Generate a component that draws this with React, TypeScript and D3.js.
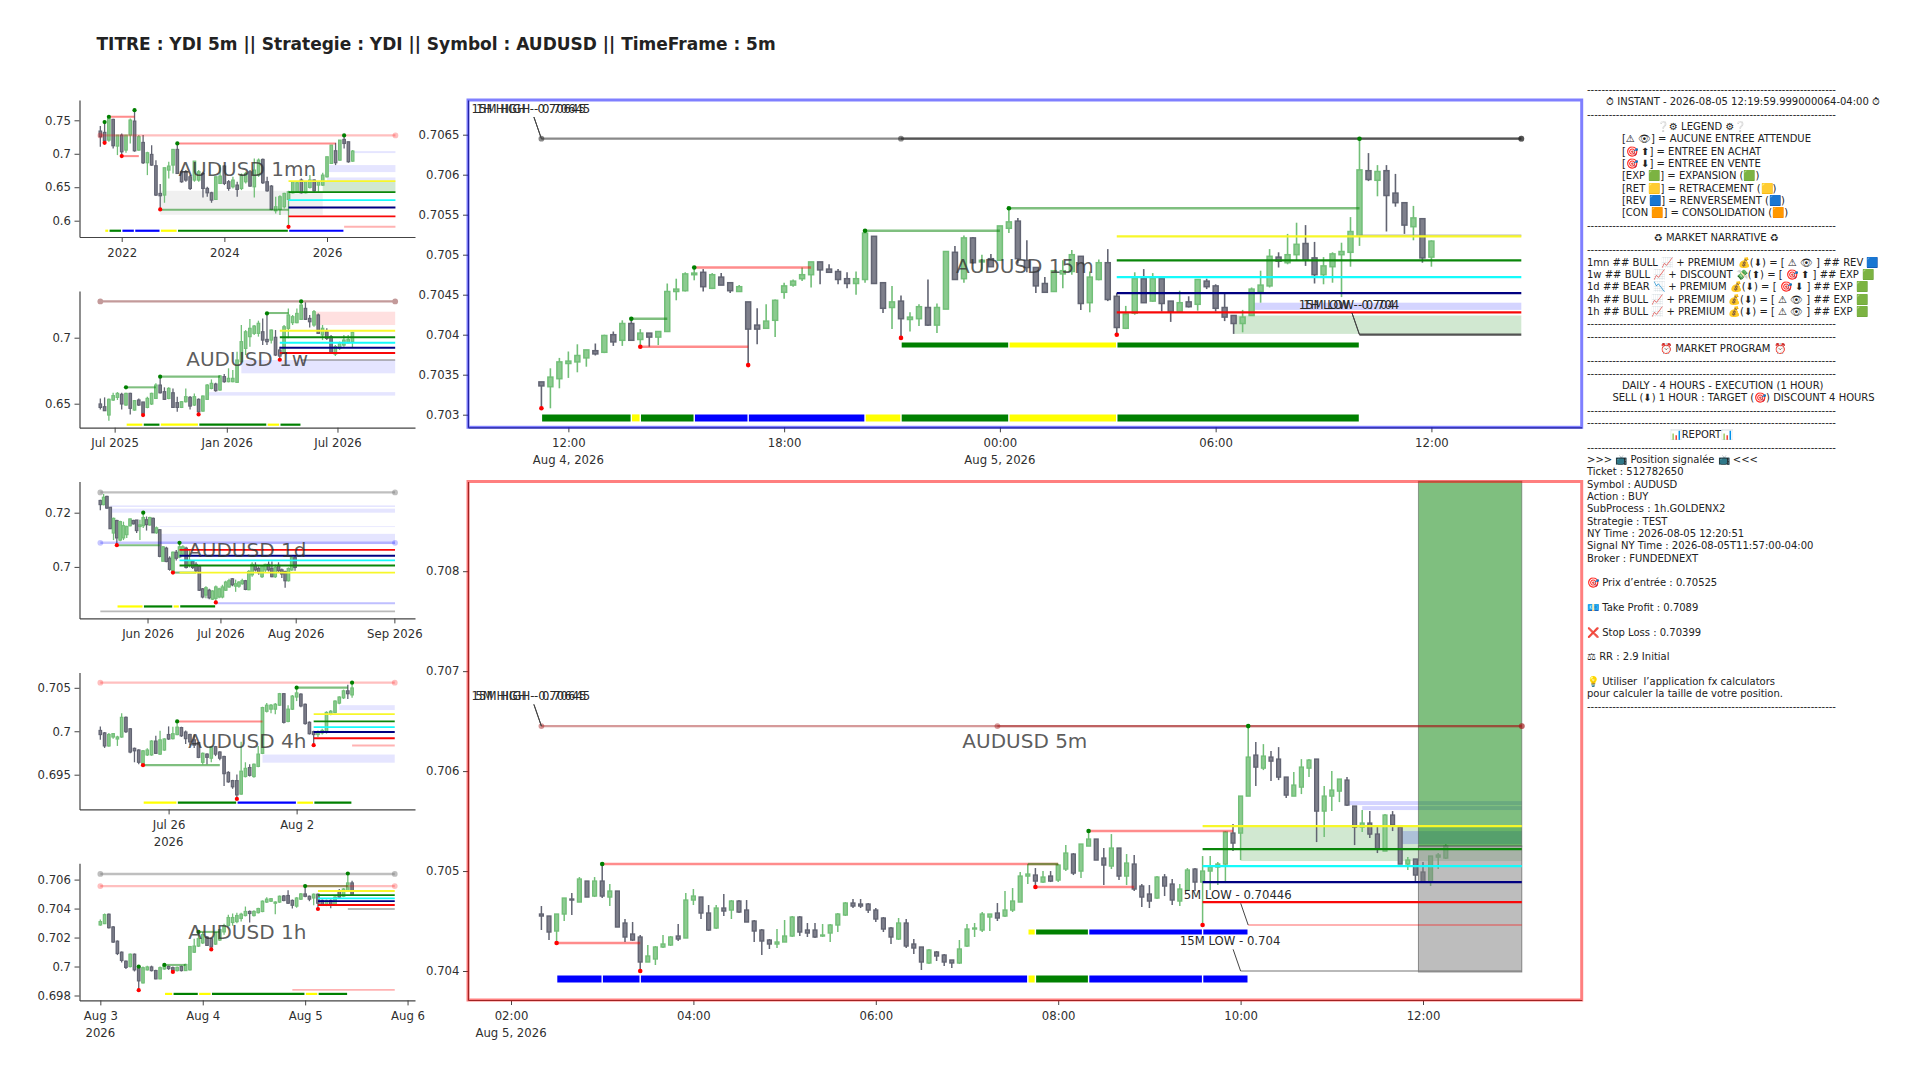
import * as React from "react";
import * as d3 from "d3";

type Candle = number[]; // open, high, low, close

const FONT = "'DejaVu Sans', sans-serif";
const TITLE = "TITRE : YDI 5m || Strategie : YDI || Symbol : AUDUSD || TimeFrame : 5m";

// prices are stored as integers, see `unit` of each panel
const candles1mn: Candle[] = [[7339,7413,7105,7254],[7319,7473,7164,7194],[7204,7553,7179,7528],[7513,7523,7080,7120],[7115,7279,6980,7279],[7279,7304,6965,7030],[7055,7279,7015,7279],[7279,7528,7154,7503],[7488,7652,7030,7045],[7055,7279,7045,7254],[7169,7279,6846,6866],[6866,7030,6681,7015],[6990,7129,6821,6831],[6821,6905,6368,6383],[6407,6547,6168,6373],[6383,6791,6268,6791],[6756,6880,6631,6816],[6831,7065,6706,7065],[7065,7154,6696,6706],[6731,6756,6567,6582],[6731,6756,6582,6607],[6656,6681,6457,6482],[6607,6890,6582,6890],[6607,6756,6582,6731],[6706,6731,6348,6482],[6482,6507,6358,6417],[6417,6432,6268,6308],[6318,6656,6308,6656],[6557,6831,6547,6666],[6816,6831,6532,6557],[6582,6607,6447,6482],[6507,6656,6482,6607],[6532,6582,6358,6467],[6482,6706,6457,6681],[6582,6731,6557,6706],[6731,6756,6507,6517],[6507,6930,6348,6756],[6681,6930,6656,6905],[6915,6930,6547,6567],[6582,6656,6432,6447],[6517,6532,6158,6168],[6148,6358,6109,6208],[6168,6382,6084,6358],[6208,6417,6183,6407],[6318,6447,5909,6432],[6417,6592,6407,6582],[6432,6582,6417,6567],[6607,6632,6407,6417],[6417,6592,6407,6582],[6497,6681,6482,6607],[6607,6617,6432,6447],[6532,6582,6432,6582],[6532,6716,6517,6681],[6656,6955,6646,6955],[6856,7129,6846,7129],[7045,7164,6831,6866],[6905,7204,6895,7204],[7214,7274,7080,7154],[7179,7179,6866,6881],[6890,7055,6881,7040]];
const candles1w: Candle[] = [[6498,6540,6457,6472],[6477,6548,6447,6447],[6414,6540,6371,6533],[6528,6583,6520,6561],[6548,6588,6528,6578],[6571,6583,6457,6498],[6490,6583,6485,6578],[6578,6583,6419,6465],[6452,6528,6447,6523],[6528,6540,6482,6490],[6513,6513,6414,6427],[6472,6553,6465,6540],[6498,6583,6490,6578],[6540,6654,6538,6641],[6641,6705,6578,6583],[6591,6624,6528,6533],[6540,6624,6533,6616],[6583,6616,6467,6472],[6508,6553,6439,6472],[6472,6520,6467,6515],[6515,6616,6510,6553],[6548,6558,6457,6482],[6490,6578,6482,6553],[6533,6540,6419,6439],[6444,6563,6439,6558],[6533,6649,6528,6641],[6616,6684,6609,6654],[6649,6659,6591,6599],[6604,6717,6599,6710],[6705,6725,6659,6667],[6667,6768,6662,6692],[6667,6755,6662,6692],[6662,6894,6659,6831],[6818,7096,6806,6970],[6919,7058,6869,7045],[7008,7141,6932,7071],[7033,7096,7020,7088],[7033,7129,7008,7109],[7045,7146,6944,6982],[6987,7184,6944,6970],[6982,7063,6957,7058],[7003,7058,6861,6869],[6907,6932,6833,6861],[6881,7096,6876,7083],[7071,7222,6995,7172],[7114,7172,7096,7159],[7114,7222,7109,7184],[7139,7275,7134,7247],[7222,7273,7134,7139],[7146,7172,7078,7121],[7096,7210,7083,7197],[7172,7184,7028,7033],[7020,7096,6982,7071],[7045,7071,6982,6995],[7008,7020,6876,6881],[6876,6944,6861,6932],[6919,6970,6907,6957],[6944,7020,6932,6982],[6962,7020,6957,6987],[6970,7045,6927,7040]];
const candles1d: Candle[] = [[7245,7248,7209,7230],[7230,7269,7227,7257],[7260,7263,7215,7217],[7220,7220,7140,7141],[7125,7182,7099,7179],[7171,7174,7080,7107],[7099,7170,7095,7167],[7107,7167,7099,7152],[7119,7152,7107,7149],[7152,7179,7149,7177],[7171,7174,7156,7159],[7173,7173,7125,7134],[7149,7174,7099,7155],[7152,7200,7144,7182],[7174,7186,7134,7156],[7155,7185,7152,7182],[7179,7182,7125,7126],[7126,7149,7122,7144],[7137,7140,7036,7039],[7021,7077,7020,7074],[7069,7074,7017,7020],[7032,7039,6986,6991],[6986,7057,6979,7054],[7054,7062,7024,7032],[7036,7089,7032,7074],[7047,7080,7044,7074],[7069,7074,6994,6998],[7009,7062,6998,7024],[7020,7023,6992,6998],[7009,7017,6979,6986],[7002,7005,6911,6914],[6919,6922,6884,6889],[6896,6929,6884,6923],[6914,6919,6881,6886],[6881,6914,6878,6911],[6884,6931,6869,6926],[6889,6923,6884,6919],[6889,6934,6884,6926],[6914,6949,6911,6944],[6926,6956,6923,6949],[6956,6959,6929,6934],[6929,6953,6908,6938],[6929,6947,6923,6944],[6938,6956,6934,6949],[6949,6952,6914,6917],[6916,6989,6914,6983],[6971,7017,6964,7009],[7006,7017,6983,6989],[6994,7002,6971,6979],[6964,7005,6959,7002],[6989,7012,6979,7009],[7009,7020,6983,6989],[6994,7020,6962,6964],[6964,7009,6959,6998],[7006,7017,6979,6986],[6989,6994,6959,6974],[6983,6986,6923,6949],[6949,6998,6946,6994],[6989,7039,6986,7035],[7035,7044,6986,6998]];
const candles4h: Candle[] = [[70009,70056,69901,69962],[69981,69991,69808,69831],[69831,69981,69822,69962],[69934,69981,69915,69972],[69911,69948,69831,69934],[69934,70207,69925,70160],[70160,70169,69981,69995],[70028,70038,69746,69761],[69803,69812,69643,69775],[69784,69793,69620,69643],[69620,69784,69610,69775],[69728,69803,69714,69784],[69728,69897,69718,69887],[69887,69948,69737,69746],[69737,70005,69728,69901],[69784,69920,69775,69911],[69962,70056,69901,69911],[69915,70052,69906,69972],[69962,70113,69953,70047],[70042,70052,69934,69948],[69991,70009,69854,69915],[69962,69972,69840,69878],[69901,69962,69808,69840],[69869,69878,69690,69700],[69643,69756,69620,69746],[69737,69746,69620,69700],[69690,69831,69643,69822],[69822,69831,69714,69737],[69761,69770,69667,69690],[69709,69718,69371,69512],[69526,69540,69408,69418],[69432,69441,69338,69361],[69432,69502,69221,69268],[69277,69878,69268,69540],[69479,69643,69469,69573],[69582,69620,69479,69493],[69479,69629,69465,69620],[69596,69831,69587,69737],[69746,70282,69737,70272],[70230,70324,70216,70300],[70254,70315,70207,70300],[70254,70324,70197,70310],[70300,70441,70291,70432],[70432,70441,70089,70103],[70113,70300,70103,70254],[70254,70418,70244,70404],[70394,70502,70347,70441],[70427,70437,70277,70291],[70310,70319,70075,70089],[70103,70113,69962,69972],[69995,70005,69840,69962],[69962,70009,69934,69995],[69981,70028,69962,70009],[69995,70230,69972,70216],[70197,70244,70183,70230],[70216,70357,70207,70347],[70324,70404,70310,70394],[70385,70479,70371,70465],[70465,70535,70371,70432],[70418,70559,70385,70498]];
const candles1h: Candle[] = [[70287,70324,70282,70310],[70296,70366,70293,70358],[70361,70366,70262,70268],[70273,70279,70163,70169],[70175,70180,70079,70090],[70099,70104,70028,70042],[70037,70042,69983,69994],[70000,70090,69994,70085],[70085,70090,69966,69977],[69994,70000,69837,69901],[69887,70000,69882,69992],[69977,70006,69972,69997],[69997,70006,69966,69972],[69972,69977,69913,69915],[69915,70000,69913,69992],[69983,70011,69977,70006],[70000,70006,69977,69986],[69992,70000,69963,69972],[69972,70000,69966,69994],[70000,70006,69966,69972],[69972,70020,69969,70014],[69977,70141,69972,70138],[70099,70192,70093,70141],[70141,70239,70135,70192],[70163,70239,70155,70220],[70203,70211,70141,70146],[70192,70197,70118,70135],[70155,70239,70149,70234],[70183,70259,70177,70254],[70239,70296,70220,70282],[70282,70358,70276,70338],[70304,70366,70282,70338],[70310,70372,70299,70352],[70332,70372,70310,70361],[70352,70414,70346,70380],[70380,70386,70304,70366],[70352,70389,70346,70380],[70372,70406,70366,70400],[70380,70456,70375,70451],[70445,70479,70439,70465],[70451,70473,70445,70468],[70437,70451,70361,70445],[70445,70490,70439,70485],[70487,70493,70451,70456],[70490,70527,70431,70437],[70456,70462,70400,70423],[70417,70479,70406,70473],[70465,70507,70459,70501],[70501,70555,70479,70485],[70485,70490,70451,70465],[70473,70504,70423,70499],[70499,70504,70397,70437],[70456,70462,70417,70423],[70428,70462,70417,70456],[70456,70462,70403,70423],[70423,70485,70417,70479],[70521,70535,70473,70479],[70485,70541,70479,70535],[70521,70642,70515,70577],[70577,70592,70487,70493]];
const candles15m: Candle[] = [[70341,70341,70308,70336],[70335,70358,70308,70347],[70345,70371,70333,70366],[70364,70379,70346,70367],[70366,70388,70353,70374],[70371,70381,70360,70381],[70380,70389,70374,70376],[70378,70400,70377,70399],[70400,70404,70386,70391],[70393,70418,70386,70414],[70414,70420,70393,70393],[70394,70407,70385,70402],[70402,70402,70385,70397],[70397,70404,70387,70404],[70404,70464,70404,70454],[70454,70470,70443,70457],[70455,70478,70454,70476],[70475,70484,70468,70477],[70478,70482,70454,70460],[70458,70477,70457,70475],[70472,70477,70462,70462],[70465,70466,70452,70455],[70454,70462,70454,70460],[70441,70441,70362,70407],[70412,70433,70388,70407],[70408,70438,70407,70417],[70418,70444,70397,70443],[70453,70465,70445,70461],[70462,70469,70460,70467],[70470,70484,70467,70475],[70475,70491,70459,70491],[70491,70491,70463,70481],[70482,70488,70478,70478],[70479,70482,70463,70469],[70470,70478,70458,70464],[70464,70479,70450,70470],[70469,70530,70465,70527],[70523,70523,70464,70464],[70465,70465,70427,70433],[70434,70461,70407,70441],[70442,70449,70396,70420],[70419,70428,70404,70422],[70420,70438,70411,70435],[70434,70469,70411,70412],[70412,70439,70402,70434],[70432,70504,70432,70504],[70503,70511,70469,70469],[70470,70524,70465,70521],[70521,70522,70489,70490],[70491,70500,70479,70493],[70495,70501,70485,70485],[70493,70536,70493,70536],[70533,70558,70527,70541],[70542,70546,70489,70495],[70493,70518,70478,70484],[70484,70484,70452,70461],[70464,70472,70452,70453],[70454,70480,70454,70480],[70476,70493,70458,70480],[70479,70506,70475,70500],[70498,70498,70431,70439],[70440,70479,70428,70472],[70469,70494,70468,70490],[70490,70507,70442,70444],[70448,70452,70400,70409],[70408,70436,70407,70426],[70427,70478,70425,70470],[70470,70482,70440,70440],[70442,70477,70441,70470],[70470,70471,70429,70439],[70442,70442,70416,70429],[70429,70455,70429,70440],[70441,70448,70434,70435],[70438,70469,70430,70469],[70467,70470,70457,70460],[70461,70463,70429,70433],[70434,70452,70417,70422],[70424,70424,70401,70414],[70414,70431,70403,70422],[70424,70459,70424,70457],[70454,70480,70440,70462],[70461,70507,70459,70498],[70497,70503,70484,70492],[70490,70526,70488,70500],[70500,70540,70493,70513],[70514,70537,70486,70493],[70496,70516,70464,70475],[70475,70497,70463,70486],[70485,70503,70465,70501],[70500,70515,70447,70504],[70503,70547,70485,70529],[70523,70645,70511,70606],[70605,70627,70592,70594],[70593,70612,70573,70604],[70605,70612,70529,70574],[70577,70601,70560,70565],[70565,70565,70526,70537],[70535,70561,70518,70546],[70545,70545,70490,70496],[70497,70518,70485,70517]];
const candles5m: Candle[] = [[70457,70465,70441,70455],[70455,70455,70431,70439],[70440,70457,70428,70457],[70457,70473,70450,70473],[70472,70478,70456,70471],[70469,70494,70469,70492],[70490,70490,70474,70474],[70475,70494,70474,70490],[70490,70507,70473,70475],[70474,70487,70465,70480],[70480,70480,70444,70444],[70448,70452,70429,70434],[70437,70449,70430,70431],[70434,70436,70400,70409],[70409,70426,70409,70415],[70412,70425,70406,70424],[70424,70436,70423,70427],[70426,70435,70425,70434],[70435,70447,70430,70432],[70433,70478,70433,70471],[70471,70482,70466,70475],[70474,70474,70452,70458],[70458,70466,70440,70441],[70443,70466,70442,70463],[70463,70477,70455,70460],[70461,70471,70452,70470],[70470,70471,70458,70459],[70461,70471,70449,70449],[70450,70451,70429,70440],[70441,70442,70416,70430],[70431,70432,70422,70427],[70427,70442,70423,70429],[70429,70451,70429,70435],[70435,70455,70434,70454],[70454,70455,70435,70439],[70441,70448,70434,70438],[70441,70448,70433,70434],[70435,70447,70434,70436],[70438,70447,70429,70446],[70446,70458,70439,70457],[70456,70469,70455,70468],[70468,70472,70463,70465],[70467,70472,70463,70465],[70467,70468,70458,70461],[70461,70463,70449,70452],[70453,70454,70439,70442],[70443,70444,70427,70434],[70432,70453,70431,70448],[70448,70452,70423,70425],[70427,70432,70417,70423],[70424,70424,70401,70409],[70408,70422,70407,70421],[70419,70420,70410,70415],[70416,70417,70405,70409],[70411,70411,70403,70408],[70408,70431,70407,70422],[70425,70447,70424,70442],[70442,70448,70434,70443],[70441,70459,70439,70457],[70454,70457,70440,70457],[70458,70468,70450,70453],[70455,70480,70454,70461],[70461,70483,70459,70470],[70469,70499,70469,70495],[70495,70507,70487,70497],[70496,70503,70484,70490],[70489,70500,70488,70494],[70495,70500,70489,70490],[70491,70507,70489,70506],[70502,70526,70500,70518],[70517,70518,70496,70498],[70500,70527,70493,70527],[70525,70540,70525,70532],[70532,70532,70511,70511],[70513,70523,70486,70506],[70505,70537,70502,70523],[70523,70523,70491,70495],[70495,70517,70486,70508],[70507,70516,70480,70482],[70485,70487,70464,70474],[70477,70486,70463,70470],[70473,70495,70472,70494],[70494,70497,70475,70485],[70487,70492,70466,70471],[70470,70487,70465,70482],[70481,70503,70480,70501],[70502,70503,70480,70489],[70489,70515,70446,70500],[70500,70515,70481,70504],[70504,70509,70486,70507],[70507,70540,70488,70539],[70538,70547,70520,70528],[70538,70575,70511,70575],[70575,70645,70575,70614],[70616,70629,70585,70604],[70603,70627,70601,70615],[70614,70620,70590,70610],[70612,70624,70591,70594],[70594,70594,70573,70576],[70575,70599,70575,70586],[70584,70612,70577,70604],[70603,70612,70594,70611],[70612,70612,70529,70560],[70560,70585,70534,70575],[70575,70600,70560,70581],[70580,70592,70569,70592],[70591,70594,70565,70566],[70565,70565,70526,70544],[70544,70561,70539,70548],[70548,70560,70533,70537],[70537,70544,70518,70522],[70520,70557,70520,70556],[70556,70560,70540,70546],[70544,70544,70507,70507],[70507,70514,70501,70511],[70512,70512,70489,70496],[70499,70509,70489,70489],[70489,70515,70485,70515],[70514,70518,70502,70516],[70513,70527,70512,70525]];

// [price, from, to, kind]
const lines1mn: any[] = [[7553,2,8,"connR"],[6965,5,9,"connR"],[7154,18,55,"connR"],[6163,14,44,"connG"],[6592,44,69,"yellow"],[6427,44,69,"green"],[6308,44,69,"cyan"],[6198,44,69,"navy"],[6064,44,69,"red"],[5909,57,69,"paleR"]];
const lines1w: any[] = [[6624,6,13,"connG"],[6705,14,28,"connG"],[7187,39,44,"connG"],[7053,42,69,"yellow"],[7003,42,69,"green"],[6962,42,69,"cyan"],[6924,42,69,"navy"],[6884,42,69,"red"],[6831,47,69,"paleK"]];
const lines1d: any[] = [[7080,5,18,"connG"],[6979,22,29,"connG"],[7063,24,89.3,"red"],[7041,24,89.3,"navy"],[7024,24,89.3,"cyan"],[7005,24,89.3,"green"],[6979,24,89.3,"yellow"],[6866,35,89.3,"paleB"],[6836,0,89.3,"paleK"]];
const lines4h: any[] = [[70113,18,38,"connR"],[69610,10,28,"connG"],[70502,46,58,"connG"],[70197,50,69,"yellow"],[70113,50,69,"green"],[70047,50,69,"cyan"],[69991,50,69,"navy"],[69920,50,69,"red"],[69836,59,69,"paleR"]];
const lines1h: any[] = [[70011,15,20,"connG"],[70239,23,28,"connG"],[70555,48,58,"connG"],[70521,51,69,"yellow"],[70493,51,69,"green"],[70470,51,69,"cyan"],[70451,51,69,"navy"],[70425,51,69,"red"],[70397,58,69,"paleK"],[69839,45,69,"paleR"]];
const lines15m: any[] = [[70420,10,14,"connG"],[70385,11,23,"connR"],[70484,17,30,"connR"],[70530,36,51,"connG"],[70558,52,91,"connG"],[70524,91,109,"paleK"],[70523,64,109,"yellow"],[70493,64,109,"green"],[70472,64,109,"cyan"],[70452,64,109,"navy"],[70428,64,109,"red"],[70400,91,109,"dark"]];
const lines5m: any[] = [[70428,2,13,"connR"],[70507,8,68,"connR"],[70507,64,68,"connG"],[70540,72,91,"connR"],[70484,65,78,"connR"],[70545,87,129,"yellow"],[70522,87,129,"green"],[70505,87,129,"cyan"],[70489,87,129,"navy"],[70469,87,129,"red"],[70446,93,129,"paleR"],[70400,92,129,"paleK"]];

// [price, from, to, kind] with a dot on both ends
const fat1mn: any[] = [[7274,0,69,"fatPink"]];
const fat1w: any[] = [[7275,0,69,"fatBrown"]];
const fat1d: any[] = [[7275,0,89.3,"fatGrey"],[7089,0,89.3,"fatBlue"]];
const fat4h: any[] = [[70559,0,69,"fatPink"]];
const fat1h: any[] = [[70639,0,69,"fatGrey"],[70555,0,69,"fatPink"]];
const fat15m: any[] = [[70645,0,109,"fatDark"],[70645,40,109,"fatDark"]];
const fat5m: any[] = [[70645,0,129,"fatMaroon"],[70645,60,129,"fatMaroon"]];

// [high, low, from, to, kind]
const zones1mn: any[] = [[6447,6088,14,52,"grey"],[6582,6427,52,69,"green"],[7040,7010,59,69,"blue"],[6831,6726,53,69,"blue"],[6646,6582,53,69,"blue"]];
const zones1w: any[] = [[7197,7096,50,69,"pink"],[6831,6730,33,69,"blue"],[6588,6561,25,69,"blue"]];
const zones1d: any[] = [[7227,7221,3,89.3,"blue"],[7215,7200,3,89.3,"blue"],[7150,7147,18,89.3,"blue"],[7122,7084,18,89.3,"blue"]];
const zones4h: any[] = [[70300,70244,56,69,"blue"],[69732,69638,38,69,"blue"]];
const zones1h: any[] = [];
const zones15m: any[] = [[70440,70431,79,109,"blueStrong"],[70424,70401,77,109,"green"]];
const zones5m: any[] = [[70546,70510,92,129,"green"],[70570,70566,106,129,"blueStrong"],[70565,70561,108,129,"blueStrong"],[70540,70527,113,129,"blueStrong"]];

// [idx, price]
const reds1mn = [[1,7164],[5,6965],[14,6168],[44,5909]];
const greens1mn = [[1,7473],[2,7553],[8,7652],[18,7154],[57,7274]];
const reds1w = [[10,6414],[23,6419],[42,6833]];
const greens1w = [[6,6624],[14,6705],[39,7184],[47,7275]];
const reds1d = [[5,7080],[22,6979],[35,6869]];
const greens1d = [[13,7200],[24,7089]];
const reds4h = [[10,69610],[32,69221],[50,69840]];
const greens4h = [[18,70113],[46,70502],[59,70559]];
const reds1h = [[9,69837],[17,69963],[26,70118],[51,70397]];
const greens1h = [[9,70000],[15,70011],[23,70239],[48,70555],[58,70642]];
const reds15m = [[0,70308],[11,70385],[23,70362],[40,70396],[64,70400]];
const greens15m = [[10,70420],[17,70484],[36,70530],[52,70558],[91,70645]];
const reds5m = [[2,70428],[13,70400],[65,70484],[87,70446]];
const greens5m = [[8,70507],[72,70540],[93,70645]];

// zigzag bars: price, then [from, to, colour]
const bars1mn: any[] = [[5850,[[1,2,"y"],[2,5,"g"],[5,8,"b"],[8,14,"b"],[14,18,"y"],[18,44,"g"],[44,57,"b"]]]];
const bars1w: any[] = [[6341,[[6,10,"y"],[10,14,"g"],[14,23,"y"],[23,39,"g"],[39,42,"y"],[42,47,"g"]]]];
const bars1d: any[] = [[6854,[[5,13,"y"],[13,22,"g"],[22,24,"y"],[24,35,"g"]]]];
const bars4h: any[] = [[69178,[[10,18,"y"],[18,32,"g"],[32,46,"b"],[46,50,"y"],[50,59,"g"]]]];
const bars1h: any[] = [[69811,[[15,17,"y"],[17,23,"g"],[23,26,"y"],[26,48,"g"],[48,51,"y"],[51,58,"g"]]]];
const bars15m: any[] = [[70296,[[0,10,"g"],[10,11,"y"],[11,17,"g"],[17,23,"b"],[23,36,"b"],[36,40,"y"],[40,52,"g"],[52,64,"y"],[64,91,"g"]]],[70387,[[40,52,"g"],[52,64,"y"],[64,91,"g"]]]];
const bars5m: any[] = [[70392,[[2,8,"b"],[8,13,"b"],[13,64,"b"],[64,65,"y"],[65,72,"g"],[72,87,"b"],[87,93,"b"]]],[70439,[[64,65,"y"],[65,72,"g"],[72,87,"b"],[87,93,"b"]]]];

// [text, idx, price]
const notes15m: any[] = [["15M HIGH - 0.70645",0,70645],["1H HIGH - 0.70645",0,70645],["15M LOW - 0.704",91,70400],["1H LOW - 0.704",91,70400]];
const notes5m: any[] = [["15M HIGH - 0.70645",0,70645],["5M HIGH - 0.70645",0,70645],["5M LOW - 0.70446",93,70446],["15M LOW - 0.704",92,70400]];

const ENTRY = 0.70525;
const TAKE_PROFIT = 0.7089;
const STOP_LOSS = 0.70399;

const DASH = "-".repeat(69);
const reportLines = [
  DASH,
  "      ⏱ INSTANT - 2026-08-05 12:19:59.999000064-04:00 ⏱",
  DASH,
  "                      ❔⚙ LEGEND ⚙❔",
  "           [⚠ 👁] = AUCUNE ENTREE ATTENDUE",
  "           [🎯 ⬆] = ENTREE EN ACHAT",
  "           [🎯 ⬇] = ENTREE EN VENTE",
  "           [EXP 🟩] = EXPANSION (🟩)",
  "           [RET 🟨] = RETRACEMENT (🟨)",
  "           [REV 🟦] = RENVERSEMENT (🟦)",
  "           [CON 🟧] = CONSOLIDATION (🟧)",
  DASH,
  "                     ♻ MARKET NARRATIVE ♻",
  DASH,
  "1mn ## BULL 📈 + PREMIUM 💰(⬇) = [ ⚠ 👁 ] ## REV 🟦",
  "1w ## BULL 📈 + DISCOUNT 💸(⬆) = [ 🎯 ⬆ ] ## EXP 🟩",
  "1d ## BEAR 📉 + PREMIUM 💰(⬇) = [ 🎯 ⬇ ] ## EXP 🟩",
  "4h ## BULL 📈 + PREMIUM 💰(⬇) = [ ⚠ 👁 ] ## EXP 🟩",
  "1h ## BULL 📈 + PREMIUM 💰(⬇) = [ ⚠ 👁 ] ## EXP 🟩",
  DASH,
  DASH,
  "                       ⏰ MARKET PROGRAM ⏰",
  DASH,
  DASH,
  "           DAILY - 4 HOURS - EXECUTION (1 HOUR)",
  "        SELL (⬇) 1 HOUR : TARGET (🎯) DISCOUNT 4 HOURS",
  DASH,
  DASH,
  "                          📊REPORT📊",
  DASH,
  ">>> 📺 Position signalée 📺 <<<",
  "Ticket : 512782650",
  "Symbol : AUDUSD",
  "Action : BUY",
  "SubProcess : 1h.GOLDENX2",
  "Strategie : TEST",
  "NY Time : 2026-08-05 12:20:51",
  "Signal NY Time : 2026-08-05T11:57:00-04:00",
  "Broker : FUNDEDNEXT",
  "",
  "🎯 Prix d’entrée : 0.70525",
  "",
  "💶 Take Profit : 0.7089",
  "",
  "❌ Stop Loss : 0.70399",
  "",
  "⚖ RR : 2.9 Initial",
  "",
  "💡 Utiliser  l’application fx calculators",
  "pour calculer la taille de votre position.",
  DASH,
];

const lineStyle: Record<string, any> = {
  yellow: { c: "#f7f72a", w: 2.2 },
  green: { c: "#0a860a", w: 2.2 },
  cyan: { c: "#14fbfb", w: 2.2 },
  navy: { c: "#000080", w: 2.2 },
  red: { c: "#f80808", w: 2.2 },
  connR: { c: "rgba(255,0,0,0.45)", w: 2.4 },
  connG: { c: "rgba(0,128,0,0.5)", w: 2.4 },
  paleR: { c: "rgba(255,0,0,0.3)", w: 2.2 },
  paleB: { c: "rgba(0,0,255,0.25)", w: 2.2 },
  paleK: { c: "rgba(128,128,128,0.55)", w: 2.2 },
  dark: { c: "rgba(40,40,40,0.8)", w: 2.2 },
  fatPink: { c: "rgba(255,0,0,0.25)", w: 2.8 },
  fatBrown: { c: "#c39a9a", w: 2.8 },
  fatGrey: { c: "rgba(128,128,128,0.5)", w: 2.8 },
  fatBlue: { c: "rgba(0,0,255,0.22)", w: 2.8 },
  fatDark: { c: "rgba(40,40,40,0.55)", w: 2.3 },
  fatMaroon: { c: "rgba(165,30,30,0.45)", w: 2.3 },
};
const zoneFill: Record<string, string> = {
  grey: "rgba(128,128,128,0.12)",
  green: "rgba(0,128,0,0.18)",
  blue: "rgba(0,0,255,0.1)",
  blueStrong: "rgba(0,0,255,0.17)",
  pink: "rgba(255,0,0,0.12)",
};
const barColor: Record<string, string> = { g: "#008000", y: "#ffff00", b: "#0000ff" };

// pixel layout of each panel, kept apart from the values
const MINI = { left: 79.5, right: 415, x0: 100.33, bodyW: 2.5, wickW: 1.3, dotR: 2.1, barW: 2.2, candleStroke: 1.2, lineScale: 0.85 };
const panels: any[] = [
  { ...MINI, name: "AUDUSD 1mn", candles: candles1mn, unit: 1e4, lines: lines1mn, fat: fat1mn, zones: zones1mn, reds: reds1mn, greens: greens1mn, bars: bars1mn,
    top: 100, bottom: 237, pitch: 4.277, endIdx: 69, labelY: 168.3, yTicks: [0.6, 0.65, 0.7, 0.75], yAnchor: [0.6, 220.7, 0.75, 120.3], xTicks: [5, 29, 53], xLabels: ["2022", "2024", "2026"] },
  { ...MINI, name: "AUDUSD 1w", candles: candles1w, unit: 1e4, lines: lines1w, fat: fat1w, zones: zones1w, reds: reds1w, greens: greens1w, bars: bars1w,
    top: 291, bottom: 427.7, pitch: 4.273, endIdx: 69, labelY: 359, yTicks: [0.65, 0.7], yAnchor: [0.65, 403.7, 0.7, 337.7], xTicks: [3.35, 29.6, 55.5], xLabels: ["Jul 2025", "Jan 2026", "Jul 2026"] },
  { ...MINI, name: "AUDUSD 1d", candles: candles1d, unit: 1e4, lines: lines1d, fat: fat1d, zones: zones1d, reds: reds1d, greens: greens1d, bars: bars1d,
    top: 481.6, bottom: 618.4, pitch: 3.3, endIdx: 89.3, labelY: 549.4, yTicks: [0.7, 0.72], yAnchor: [0.7, 566.9, 0.72, 512.7], xTicks: [14.3, 36.4, 59.2, 89.1], xLabels: ["Jun 2026", "Jul 2026", "Aug 2026", "Sep 2026"] },
  { ...MINI, name: "AUDUSD 4h", candles: candles4h, unit: 1e5, lines: lines4h, fat: fat4h, zones: zones4h, reds: reds4h, greens: greens4h, bars: bars4h,
    top: 672.6, bottom: 809.4, pitch: 4.267, endIdx: 69, labelY: 740.8, yTicks: [0.695, 0.7, 0.705], yAnchor: [0.695, 774.7, 0.705, 687.8], xTicks: [16, 46], xLabels: ["Jul 26", "Aug 2"], xSub: { 0: "2026" } },
  { ...MINI, name: "AUDUSD 1h", candles: candles1h, unit: 1e5, lines: lines1h, fat: fat1h, zones: zones1h, reds: reds1h, greens: greens1h, bars: bars1h,
    top: 863.3, bottom: 1000.4, pitch: 4.267, endIdx: 69, labelY: 931.8, yTicks: [0.698, 0.7, 0.702, 0.704, 0.706], yAnchor: [0.698, 995.5, 0.706, 879.6], xTicks: [0, 24, 48, 72], xLabels: ["Aug 3", "Aug 4", "Aug 5", "Aug 6"], xSub: { 0: "2026" } },
  { name: "AUDUSD 15m", candles: candles15m, unit: 1e5, lines: lines15m, fat: fat15m, zones: zones15m, reds: reds15m, greens: greens15m, bars: bars15m, notes: notes15m,
    left: 468, right: 1581.7, top: 100, bottom: 427.3, x0: 541.4, pitch: 8.99, endIdx: 109, bodyW: 5, wickW: 1.6, dotR: 2.3, barW: 7, barW2: 5, candleStroke: 1.5, lineScale: 1, labelY: 265.5,
    yTicks: [0.703, 0.7035, 0.704, 0.7045, 0.705, 0.7055, 0.706, 0.7065], yAnchor: [0.703, 414.7, 0.7065, 134.7], xTicks: [3, 27, 51, 75, 99], xLabels: ["12:00", "18:00", "00:00", "06:00", "12:00"], xSub: { 0: "Aug 4, 2026", 2: "Aug 5, 2026" }, border: "rgba(0,0,255,0.5)" },
  { name: "AUDUSD 5m", candles: candles5m, unit: 1e5, lines: lines5m, fat: fat5m, zones: zones5m, reds: reds5m, greens: greens5m, bars: bars5m, notes: notes5m,
    left: 468, right: 1581.7, top: 481.5, bottom: 1000, x0: 541.4, pitch: 7.6, endIdx: 129, bodyW: 3.8, wickW: 1.5, dotR: 2.3, barW: 7, barW2: 5, candleStroke: 1.4, lineScale: 1, labelY: 741,
    yTicks: [0.704, 0.705, 0.706, 0.707, 0.708], yAnchor: [0.704, 971, 0.708, 571.2], xTicks: [-4, 20, 44, 68, 92, 116], xLabels: ["02:00", "04:00", "06:00", "08:00", "10:00", "12:00"], xSub: { 0: "Aug 5, 2026" }, border: "rgba(255,0,0,0.5)", trade: true },
];

function drawPanel(root: d3.Selection<SVGSVGElement, unknown, null, undefined>, p: any) {
  const g = root.append("g").attr("font-family", FONT);

  const yBase = d3.scaleLinear().domain([p.yAnchor[0], p.yAnchor[2]]).range([p.yAnchor[1], p.yAnchor[3]]);
  const y = d3.scaleLinear().domain([yBase.invert(p.bottom), yBase.invert(p.top)]).range([p.bottom, p.top]);
  const xBase = d3.scaleLinear().domain([0, p.endIdx]).range([p.x0, p.x0 + p.pitch * p.endIdx]);
  const x = d3.scaleLinear().domain([xBase.invert(p.left), xBase.invert(p.right)]).range([p.left, p.right]);
  const py = (v: number) => y(v / p.unit);

  // zones under the candles
  g.selectAll(".zone")
    .data(p.zones)
    .join("rect")
    .attr("x", (d: any) => x(d[2]))
    .attr("y", (d: any) => py(d[0]))
    .attr("width", (d: any) => x(d[3]) - x(d[2]))
    .attr("height", (d: any) => py(d[1]) - py(d[0]))
    .attr("fill", (d: any) => zoneFill[d[4]]);

  // zigzag bars
  p.bars.forEach((row: any, rowIdx: number) => {
    const w = rowIdx === 0 ? p.barW : p.barW2;
    g.selectAll(null)
      .data(row[1])
      .join("line")
      .attr("x1", (d: any) => x(d[0]) + 0.7)
      .attr("x2", (d: any) => x(d[1]) - 0.7)
      .attr("y1", py(row[0]))
      .attr("y2", py(row[0]))
      .attr("stroke", (d: any) => barColor[d[2]])
      .attr("stroke-width", w);
  });

  // candles
  const up = (c: Candle) => c[3] >= c[0];
  const stroke = (c: Candle) => (up(c) ? "#72bf78" : "#626472");
  const candle = g.selectAll(".candle").data(p.candles as Candle[]).join("g");
  candle
    .append("line")
    .attr("x1", (_: any, i: number) => x(i))
    .attr("x2", (_: any, i: number) => x(i))
    .attr("y1", (c: Candle) => py(c[1]))
    .attr("y2", (c: Candle) => py(c[2]))
    .attr("stroke", stroke)
    .attr("stroke-width", p.wickW);
  candle
    .append("rect")
    .attr("x", (_: any, i: number) => x(i) - p.bodyW / 2)
    .attr("y", (c: Candle) => py(Math.max(c[0], c[3])))
    .attr("width", p.bodyW)
    .attr("height", (c: Candle) => Math.max(0.5, Math.abs(py(c[0]) - py(c[3]))))
    .attr("fill", (c: Candle) => (up(c) ? "#8ccb90" : "#7f808c"))
    .attr("stroke", stroke)
    .attr("stroke-width", p.candleStroke);

  // trade box sits over the candles
  if (p.trade) {
    const bx = 115.4;
    g.append("rect").attr("x", x(bx)).attr("width", x(129) - x(bx))
      .attr("y", y(TAKE_PROFIT)).attr("height", y(ENTRY) - y(TAKE_PROFIT))
      .attr("fill", "rgba(0,128,0,0.5)").attr("stroke", "rgba(80,80,80,0.5)");
    g.append("rect").attr("x", x(bx)).attr("width", x(129) - x(bx))
      .attr("y", y(ENTRY)).attr("height", y(STOP_LOSS) - y(ENTRY))
      .attr("fill", "rgba(128,128,128,0.52)").attr("stroke", "rgba(80,80,80,0.6)");
  }

  // horizontal lines
  g.selectAll(".hline")
    .data(p.lines.concat(p.fat))
    .join("line")
    .attr("x1", (d: any) => x(d[1]))
    .attr("x2", (d: any) => x(d[2]))
    .attr("y1", (d: any) => py(d[0]))
    .attr("y2", (d: any) => py(d[0]))
    .attr("stroke", (d: any) => lineStyle[d[3]].c)
    .attr("stroke-width", (d: any) => lineStyle[d[3]].w * p.lineScale);

  // dots on the two ends of the long lines
  p.fat.forEach((d: any) => {
    g.selectAll(null)
      .data([d[1], d[2]])
      .join("circle")
      .attr("cx", (i: number) => x(i))
      .attr("cy", py(d[0]))
      .attr("r", 2.9)
      .attr("fill", lineStyle[d[3]].c);
  });

  // swing dots
  const dots = (rows: number[][], color: string) =>
    g.selectAll(null)
      .data(rows)
      .join("circle")
      .attr("cx", (d: number[]) => x(d[0]))
      .attr("cy", (d: number[]) => py(d[1]))
      .attr("r", p.dotR)
      .attr("fill", color);
  dots(p.greens, "#008000");
  dots(p.reds, "#ff0000");

  // annotations, drawn on top of each other as in the source chart
  (p.notes || []).forEach((n: any) => {
    const hx = x(n[1]);
    const hy = py(n[2]);
    g.append("line").attr("x1", hx - 7.5).attr("y1", hy - 21.7).attr("x2", hx).attr("y2", hy)
      .attr("stroke", "#444").attr("stroke-width", 1);
    g.append("text").attr("x", hx - 10.5).attr("y", hy - 25.8).attr("text-anchor", "middle")
      .attr("font-size", 11.7).attr("fill", "#2a2a2a").text(n[0]);
  });

  // panel title
  g.append("text")
    .attr("x", (p.left + p.right) / 2)
    .attr("y", p.labelY + 7.4)
    .attr("text-anchor", "middle")
    .attr("font-size", 20)
    .attr("fill", "rgba(50,50,50,0.8)")
    .text(p.name);

  // axes
  const yAxis = d3.axisLeft(y).tickValues(p.yTicks).tickSize(5).tickSizeOuter(0).tickPadding(3.5)
    .tickFormat((v: any) => String(v));
  const xAxis = d3.axisBottom(x).tickValues(p.xTicks).tickSize(5).tickSizeOuter(0).tickPadding(6.5)
    .tickFormat((_: any, i: number) => p.xLabels[i]);
  const ya = g.append("g").attr("transform", `translate(${p.left},0)`).call(yAxis as any);
  const xa = g.append("g").attr("transform", `translate(0,${p.bottom})`).call(xAxis as any);
  [ya, xa].forEach((a: any) => {
    a.attr("font-family", FONT).attr("font-size", 11.7);
    a.selectAll("path").attr("stroke", "#444").attr("stroke-width", 1.2);
    a.selectAll("line").attr("stroke", "#444");
    a.selectAll("text").attr("fill", "#2f2f2f");
  });
  Object.entries(p.xSub || {}).forEach(([i, label]: any) => {
    g.append("text")
      .attr("x", x(p.xTicks[+i]))
      .attr("y", p.bottom + 36.5)
      .attr("text-anchor", "middle")
      .attr("font-size", 11.7)
      .attr("fill", "#2f2f2f")
      .text(label);
  });

  if (p.border) {
    g.append("rect")
      .attr("x", p.left).attr("y", p.top)
      .attr("width", p.right - p.left).attr("height", p.bottom - p.top)
      .attr("fill", "none").attr("stroke", p.border).attr("stroke-width", 3);
  }
}

function drawChart(svgRef: React.RefObject<SVGSVGElement | null>) {
  const svg = d3.select(svgRef.current as SVGSVGElement);
  svg.selectAll("*").remove();

  svg.append("text")
    .attr("x", 96.5).attr("y", 50)
    .attr("font-family", FONT).attr("font-size", 17).attr("font-weight", "bold")
    .attr("fill", "#222")
    .text(TITLE);

  panels.forEach((p) => drawPanel(svg as any, p));

  svg.append("g")
    .attr("font-family", FONT)
    .attr("font-size", 10)
    .attr("fill", "#222")
    .selectAll("text")
    .data(reportLines)
    .join("text")
    .attr("x", 1587)
    .attr("y", (_, i) => 93 + i * 12.335)
    .style("white-space", "pre")
    .text((d) => d);
}

const App: React.FunctionComponent = () => {
  const svg = React.useRef<SVGSVGElement>(null);
  React.useEffect(() => {
    drawChart(svg);
  }, [svg]);

  return (
    <svg
      ref={svg}
      width={1920}
      height={1080}
      style={{ position: "absolute", left: 0, top: 0, background: "#fff" }}
    />
  );
};

export default App;
